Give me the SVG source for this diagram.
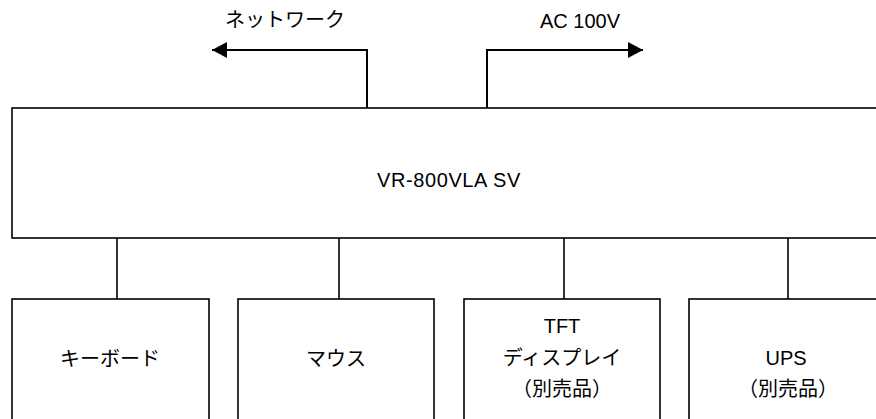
<svg xmlns="http://www.w3.org/2000/svg" width="876" height="419" viewBox="0 0 876 419">
<defs>
<style>
.box{fill:#fff;stroke:#000;stroke-width:1.6}
.ln{fill:none;stroke:#000;stroke-width:1.6}
.ar{fill:none;stroke:#000;stroke-width:2}
text{font-family:"Liberation Sans","Noto Sans CJK JP",sans-serif;font-size:20px;fill:#000;text-anchor:middle}
</style>
<marker id="ah" viewBox="0 0 15 16" refX="15" refY="8" markerWidth="15" markerHeight="16" markerUnits="userSpaceOnUse" orient="auto">
<path d="M0,0 L15,8 L0,16 Z" fill="#000"/>
</marker>
</defs>
<rect width="876" height="419" fill="#fff"/>
<g id="connectors">
<path class="ar" d="M367,108 V50 H212" marker-end="url(#ah)"/>
<path class="ar" d="M487,108 V50 H643" marker-end="url(#ah)"/>
<path class="ln" d="M117,238 V299"/>
<path class="ln" d="M339,238 V299"/>
<path class="ln" d="M564,238 V299"/>
<path class="ln" d="M788,238 V299"/>
</g>
<g id="label-network"><text x="285" y="27">ネットワーク</text></g>
<g id="label-ac"><text x="580" y="28">AC 100V</text></g>
<g id="main">
<rect class="box" x="12" y="108" width="880" height="130"/>
<text x="449" y="187" letter-spacing="0.6">VR-800VLA SV</text>
</g>
<g id="keyboard">
<rect class="box" x="12" y="299" width="197" height="140"/>
<text x="110" y="366">キーボード</text>
</g>
<g id="mouse">
<rect class="box" x="238" y="299" width="196" height="140"/>
<text x="336" y="366">マウス</text>
</g>
<g id="tft">
<rect class="box" x="464" y="299" width="196" height="140"/>
<text x="562" y="333">TFT</text>
<text x="562" y="365">ディスプレイ</text>
<text x="562" y="396">（別売品）</text>
</g>
<g id="ups">
<rect class="box" x="689" y="299" width="210" height="140"/>
<text x="786" y="365">UPS</text>
<text x="788" y="396">（別売品）</text>
</g>
</svg>
